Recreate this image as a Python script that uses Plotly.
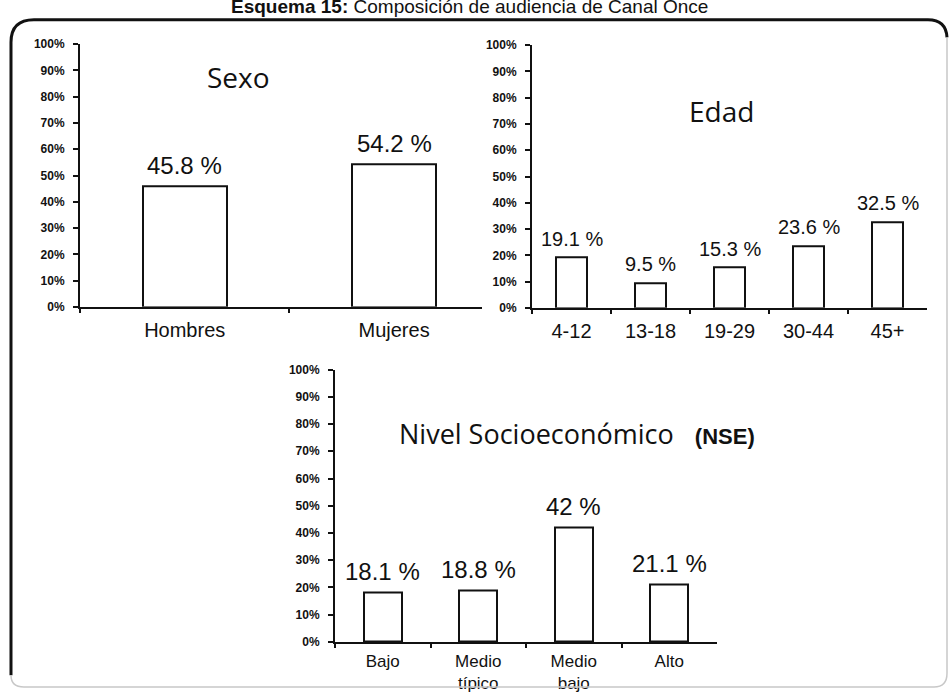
import plotly.graph_objects as go

W, H = 952, 697

# ---- data ----
sexo_categories = ["Hombres", "Mujeres"]
sexo_values = [45.8, 54.2]

edad_categories = ["4-12", "13-18", "19-29", "30-44", "45+"]
edad_values = [19.1, 9.5, 15.3, 23.6, 32.5]

nse_categories = ["Bajo", "Medio típico", "Medio bajo", "Alto"]
nse_values = [18.1, 18.8, 42, 21.1]

y_tick_values = list(range(0, 101, 10))
y_tick_labels = [f"{v}%" for v in y_tick_values]

title_text = "<b>Esquema 15:</b> Composición de audiencia de Canal Once"

INK = "#111111"
LABEL_FONT = "Liberation Sans, Arial, sans-serif"
TITLE_FONT = "'Open Sans', sans-serif"


def fx(px):
    return px / W


def fy(py):
    return 1 - py / H


fig = go.Figure()

panels = [
    dict(cats=sexo_categories, vals=sexo_values, xa="x", ya="y", width=0.4,
         xdom=(80, 482), ydom=(38, 306), xrange=[-0.5, 1.42], vfont=24,
         tfont=20, standoff=4),
    dict(cats=edad_categories, vals=edad_values, xa="x2", ya="y2", width=0.38,
         xdom=(532, 927), ydom=(39, 307), xrange=[-0.5, 4.5], vfont=20,
         tfont=20, standoff=4),
    dict(cats=nse_categories, vals=nse_values, xa="x3", ya="y3", width=0.4,
         xdom=(335, 717), ydom=(370, 648), xrange=[-0.5, 3.5], vfont=24,
         tfont=17, standoff=3),
]

annotations = []
for i, p in enumerate(panels, start=1):
    fig.add_trace(go.Bar(
        x=p["cats"], y=p["vals"], width=p["width"],
        marker=dict(color="white", line=dict(color=INK, width=2)),
        xaxis=p["xa"], yaxis=p["ya"], showlegend=False, hoverinfo="skip",
    ))
    sfx = "" if i == 1 else str(i)
    fig.layout["xaxis" + sfx] = dict(
        domain=[fx(p["xdom"][0]), fx(p["xdom"][1])],
        anchor=p["ya"], type="category", range=p["xrange"],
        tickmode="array", tickvals=p["cats"],
        ticktext=[c.replace(" ", "<br>") for c in p["cats"]],
        showline=True, linecolor=INK, linewidth=2,
        ticks="outside", ticklen=4, tickwidth=2, tickcolor=INK,
        tickson="boundaries", showgrid=False, zeroline=False,
        ticklabelstandoff=p["standoff"],
        tickfont=dict(family=LABEL_FONT, size=p["tfont"], color=INK),
    )
    fig.layout["yaxis" + sfx] = dict(
        domain=[fy(p["ydom"][1]), fy(p["ydom"][0])],
        anchor=p["xa"], range=[0, 100],
        tickmode="array", tickvals=y_tick_values, ticktext=y_tick_labels,
        showline=True, linecolor=INK, linewidth=2,
        ticks="outside", ticklen=5, tickwidth=2, tickcolor=INK,
        showgrid=False, zeroline=False, ticklabelstandoff=6,
        tickfont=dict(family=LABEL_FONT, size=12, color=INK, weight="bold"),
    )
    # value labels above each bar
    for c, v in zip(p["cats"], p["vals"]):
        annotations.append(dict(
            x=c, y=v, xref=p["xa"], yref=p["ya"], text=f"{v:g} %",
            showarrow=False, xanchor="center", yanchor="bottom", yshift=6,
            font=dict(family=LABEL_FONT, size=p["vfont"], color=INK),
        ))

# panel titles
annotations += [
    dict(x=fx(238), y=fy(71), xref="paper", yref="paper", text="Sexo",
         showarrow=False, xanchor="center", yanchor="middle",
         font=dict(family=TITLE_FONT, size=28, color=INK)),
    dict(x=fx(721), y=fy(106), xref="paper", yref="paper", text="Edad",
         showarrow=False, xanchor="center", yanchor="middle",
         font=dict(family=TITLE_FONT, size=28, color=INK)),
    dict(x=fx(577), y=fy(435), xref="paper", yref="paper",
         text="Nivel Socioeconómico&nbsp;&nbsp;&nbsp;"
              "<span style=\"font-family:'Liberation Sans', Arial;font-size:22px\"><b>(NSE)</b></span>",
         showarrow=False, xanchor="center", yanchor="middle",
         font=dict(family=TITLE_FONT, size=27, color=INK)),
    dict(x=fx(469), y=fy(12), xref="paper", yref="paper", text=title_text,
         showarrow=False, xanchor="center", yanchor="bottom",
         font=dict(family=LABEL_FONT, size=19, color=INK)),
]


def pt(px, py):
    return f"{fx(px):.5f},{fy(py):.5f}"


# rounded frame: dark top/left edges, faint bottom/right edges
dark_frame = (f"M {pt(11, 682)} L {pt(11, 36)} Q {pt(11, 13)} {pt(34, 13)} "
              f"L {pt(928, 13)} Q {pt(946, 13)} {pt(947, 31)}")
light_frame = (f"M {pt(947, 31)} L {pt(947, 680)} Q {pt(947, 694)} {pt(934, 694)} "
               f"L {pt(24, 694)} Q {pt(11, 694)} {pt(11, 682)}")
shapes = [
    dict(type="path", xref="paper", yref="paper", path=dark_frame,
         line=dict(color=INK, width=3)),
    dict(type="path", xref="paper", yref="paper", path=light_frame,
         line=dict(color="#c8c8c8", width=1.5)),
]

fig.update_layout(
    width=W, height=H, margin=dict(l=0, r=0, t=0, b=0),
    paper_bgcolor="white", plot_bgcolor="white",
    annotations=annotations, shapes=shapes, bargap=0,
)

fig.write_html("out.html")
